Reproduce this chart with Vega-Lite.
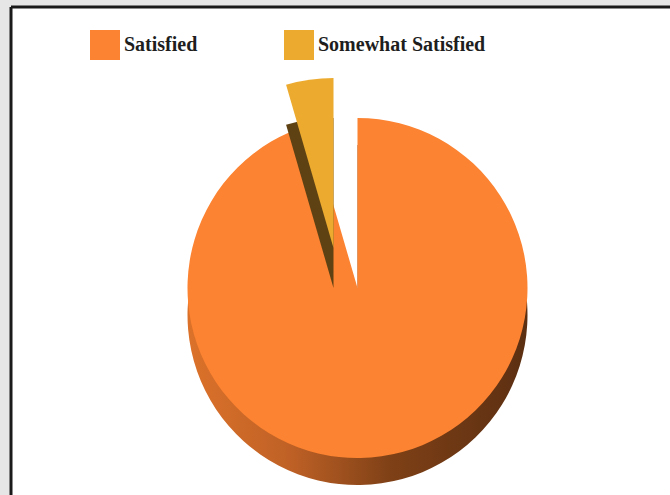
{
  "$schema": "https://vega.github.io/schema/vega-lite/v6.json",
  "width": 670,
  "height": 495,
  "autosize": {"type": "fit", "contains": "padding"},
  "padding": {"left": 11, "top": 7, "right": 0, "bottom": 0},
  "background": "#e6e6e6",
  "view": {"fill": "#ffffff", "stroke": "#1a1a1a", "strokeWidth": 3, "strokeDash": [659, 1147, 488, 0]},
  "data": {
    "values": [
      {"category": "Satisfied", "value": 95.5},
      {"category": "Somewhat Satisfied", "value": 4.5}
    ]
  },
  "transform": [
    {"stack": "value", "groupby": [], "sort": [{"field": "category", "order": "ascending"}], "as": ["t0", "t1"]}
  ],
  "encoding": {
    "theta": {"field": "t0", "type": "quantitative", "scale": {"domain": [0, 100]}},
    "theta2": {"field": "t1"}
  },
  "layer": [
    {
      "transform": [{"filter": "datum.category === 'Satisfied'"}],
      "mark": {
        "type": "arc", "radius": 170, "xOffset": 17, "yOffset": 64,
        "fill": {"gradient": "linear", "x1": 0, "y1": 0, "x2": 1, "y2": 0,
          "stops": [
            {"offset": 0, "color": "#dc722a"},
            {"offset": 0.3, "color": "#bf6126"},
            {"offset": 0.6, "color": "#7e4016"},
            {"offset": 1, "color": "#5c2f12"}
          ]}
      }
    },
    {
      "transform": [{"filter": "datum.category === 'Satisfied'"}],
      "mark": {"type": "arc", "radius": 170, "xOffset": 17, "yOffset": 37},
      "encoding": {
        "color": {
          "field": "category", "type": "nominal",
          "scale": {"domain": ["Satisfied", "Somewhat Satisfied"], "range": ["#fc8331", "#ecab2f"]},
          "legend": {
            "orient": "none", "legendX": 79, "legendY": 23, "direction": "horizontal",
            "title": null, "symbolType": "square", "symbolSize": 900, "symbolStrokeWidth": 0,
            "symbolOpacity": 1, "labelFont": "Liberation Serif", "labelFontWeight": "bold",
            "labelFontSize": 20, "labelColor": "#1e1e1e", "columnPadding": 86, "labelOffset": 4,
            "labelLimit": 0
          }
        }
      }
    },
    {
      "transform": [{"filter": "datum.category === 'Somewhat Satisfied'"}],
      "mark": {"type": "arc", "radius": 170, "xOffset": -7, "yOffset": 37, "fill": "#5e4214"}
    },
    {
      "transform": [{"filter": "datum.category === 'Somewhat Satisfied'"}],
      "mark": {"type": "arc", "radius": 170, "xOffset": -7, "yOffset": -3},
      "encoding": {
        "color": {
          "field": "category", "type": "nominal",
          "scale": {"domain": ["Satisfied", "Somewhat Satisfied"], "range": ["#fc8331", "#ecab2f"]}
        }
      }
    }
  ]
}
